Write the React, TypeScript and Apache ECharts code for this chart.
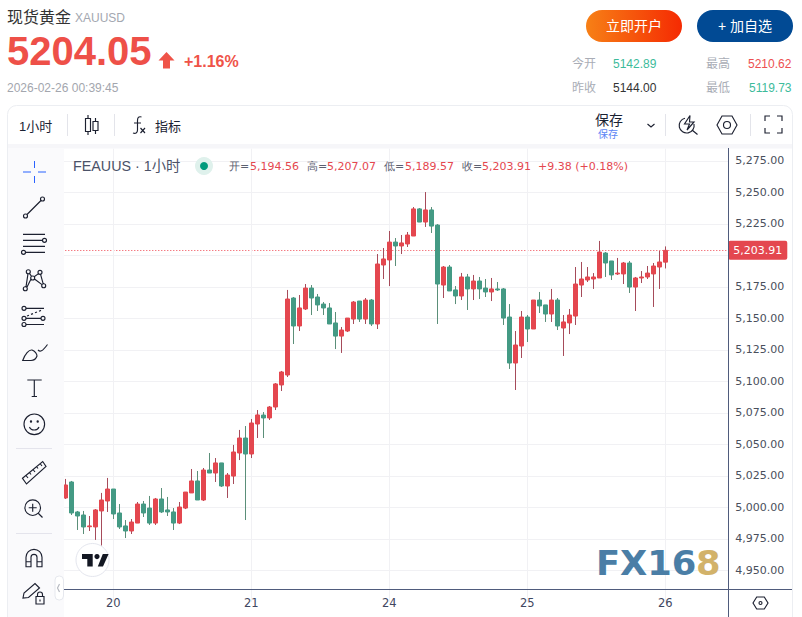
import React, { useEffect, useRef } from "react";
import * as echarts from "echarts";

const opens = [5007.4,5020.1,4996.3,4993.9,4984.6,4984.4,4997.1,5005.0,5014.5,4995.5,
4985.2,4981.2,4987.5,5002.6,4999.4,4987.5,5006.6,4997.9,4996.3,4987.5,
4999.4,5011.4,5020.9,5005.8,5029.6,5027.2,5035.2,5016.9,5024.8,5043.1,
5055.0,5042.3,5066.1,5073.2,5070.9,5079.6,5097.1,5105.0,5166.1,5143.9,
5157.4,5174.0,5166.9,5161.3,5158.2,5146.3,5135.9,5139.9,5149.4,5163.7,
5149.4,5164.5,5145.5,5192.3,5196.3,5210.5,5207.4,5209.0,5215.3,5236.8,
5226.4,5236.0,5224.0,5176.4,5190.7,5172.5,5167.7,5182.8,5173.3,5179.6,
5174.0,5170.9,5173.3,5173.3,5151.0,5114.5,5128.0,5151.0,5141.5,5164.5,
5160.6,5153.4,5164.5,5142.3,5146.3,5151.8,5176.4,5180.4,5181.2,5182.0,
5201.8,5195.5,5185.2,5185.2,5193.9,5174.8,5182.0,5182.8,5185.2,5190.7,5194.56];
const closes = [5017.7,4995.5,4993.1,4984.4,4985.2,4997.9,5005.8,5014.5,4994.7,4984.4,
4981.2,4988.3,5002.6,4995.5,4987.5,5006.6,4996.3,4996.3,4987.5,5000.2,
5012.1,5020.9,5005.8,5029.6,5027.2,5035.2,5016.9,5025.6,5043.9,5055.0,
5042.3,5066.9,5073.3,5070.9,5079.6,5097.9,5107.4,5165.3,5143.9,5158.2,
5174.0,5166.1,5160.6,5158.2,5145.5,5135.9,5140.7,5150.2,5162.9,5149.4,
5164.5,5145.5,5193.1,5197.1,5210.5,5207.4,5209.8,5216.1,5236.8,5226.4,
5236.0,5223.2,5177.2,5190.7,5171.7,5167.7,5182.8,5173.3,5179.6,5173.3,
5170.9,5173.3,5172.5,5150.2,5114.5,5128.8,5151.0,5141.5,5164.5,5159.8,
5153.4,5164.5,5143.9,5147.1,5152.6,5177.2,5181.2,5182.8,5182.8,5202.6,
5193.9,5184.4,5185.9,5193.9,5174.8,5182.0,5182.8,5185.9,5191.5,5194.7,5203.91];
const lows = [5006.6,4993.9,4982.0,4978.8,4981.2,4974.1,4969.6,4996.3,4990.7,4982.8,
4975.6,4978.8,4987.5,4992.3,4986.0,4986.0,4995.5,4993.1,4982.0,4986.7,
4998.6,5011.4,5005.8,5005.0,5027.2,5020.1,5016.1,5007.4,5018.5,5037.5,
4989.9,5039.1,5055.0,5055.0,5069.3,5077.2,5092.3,5103.4,5129.6,5139.9,
5156.6,5152.6,5155.8,5152.6,5145.5,5125.6,5122.5,5139.1,5145.5,5147.1,
5145.5,5143.9,5141.5,5181.2,5175.6,5191.5,5201.0,5206.6,5215.3,5226.4,
5222.5,5217.7,5145.5,5166.1,5171.7,5161.3,5164.5,5156.6,5164.5,5165.3,
5166.9,5163.7,5171.7,5144.7,5109.8,5093.1,5118.5,5131.2,5141.5,5154.2,
5147.1,5147.1,5140.7,5120.1,5137.5,5144.7,5166.9,5178.8,5173.3,5182.0,
5182.8,5180.4,5184.4,5177.2,5170.1,5155.8,5178.0,5181.2,5159.0,5173.3,5189.57];
const highs = [5022.5,5020.9,4997.1,4997.1,4993.1,4998.6,5011.4,5023.3,5014.5,5002.6,
4989.9,4990.7,5004.2,5005.0,5009.0,5007.4,5015.3,5008.2,4999.4,5004.2,
5012.1,5030.4,5028.8,5031.2,5043.1,5039.1,5035.2,5027.2,5049.5,5061.4,
5064.5,5070.1,5077.2,5075.6,5080.4,5098.6,5108.2,5172.5,5166.9,5168.5,
5177.2,5176.4,5169.3,5162.9,5162.1,5155.0,5143.1,5150.2,5163.7,5163.7,
5166.1,5165.3,5201.0,5205.8,5219.3,5213.7,5216.1,5218.5,5238.3,5237.5,
5250.2,5238.3,5224.8,5191.5,5192.3,5175.6,5186.0,5185.2,5184.4,5182.8,
5181.2,5182.0,5178.8,5174.0,5161.3,5139.9,5155.8,5152.6,5164.5,5170.9,
5160.6,5173.3,5166.1,5152.6,5157.4,5190.7,5194.7,5190.7,5185.9,5211.4,
5202.6,5195.5,5197.9,5194.7,5195.5,5182.8,5187.5,5191.5,5193.9,5203.4,5207.07];

const dayLabels = ["20", "21", "24", "25", "26"];
const dayIndexes = [8, 31, 54, 77, 100];
const emptySlots = 10;
const lastPrice = 5203.91;
const hiddenTicks = [4925, 5200, 5300];

const RED = "#e4474f";
const GREEN = "#449a84";
const RED_WICK = "#a64b5a";
const GREEN_WICK = "#5b8f79";
const INK = "#1c2030";
const SANS = '"Liberation Sans","Noto Sans CJK SC",sans-serif';
const DEJA = '"DejaVu Sans",sans-serif';

const c = (x: number, y: number, r: number) =>
  `M${x - r} ${y}a${r} ${r} 0 1 0 ${2 * r} 0a${r} ${r} 0 1 0 ${-2 * r} 0z`;

const iconPaths: Record<string, string> = {
  icLine: c(25.5, 216, 2) + c(42.5, 199, 2) + "M27 214.5L41 200.5",
  icFib: "M23 234.3H45M23 240.3H42.5" + c(44.5, 240.3, 2) + "M23 246.3H45M25.5 252.3H45" + c(23.5, 252.3, 2),
  icWeb: c(25.3, 288.7, 2) + c(28.3, 271.7, 2) + c(32.7, 278, 2) + c(40, 272.3, 2) + c(43.7, 285.7, 2) +
    "M26 286.8L28 273.7M29.4 273.4L31.6 276.3M34.2 276.7L38.5 273.6M40.5 274.2L43.2 283.8M42 284.6L34.5 279M31 279L26.8 287.4",
  icTrend: c(24, 308.3, 2) + "M26 308.3H44" + c(24, 318.3, 2) + "M26 318.3H41" + c(43, 318.3, 2) + c(24, 324.5, 2) + "M26 324.5H44" +
    "M27 316l2-.8M31 314.4l2-.8M35 312.8l2-.8M39 311.2l2-.8",
  icBrush: "M22.7 360.5C25 354 29 349.5 32 350C35 351 37 354 37 356C36 359 33 360.5 31 360.5ZM38 350C40 352 42 352 47.5 344.5",
  icText: "M27.3 380H41.7M34.3 380V396.5M31.7 396.5H37",
  icSmile: c(34.3, 424.3, 10.3) + c(31, 421.5, 0.6) + c(37.7, 421.5, 0.6) + "M29.5 427C31 431 37.5 431 39 427",
  icRuler: "M22.5 478.3L42.7 461.5L46 466.5L26.5 484ZM26 475.5l2 2.5M29.5 472.5l1.5 2M33 469.5l2 2.5M36.5 466.5l1.5 2M40 463.5l2 2.5",
  icZoom: c(32.7, 507.7, 7.8) + "M28.7 507.7H36.7M32.7 503.7V511.7M38.5 513.5L42.5 517.5",
  icMagnet: "M26 566.7V557.3a8 8 0 0 1 16 0V566.7H37V557.3a3 3 0 0 0 -6 0V566.7ZM26 561.7H31M37 561.7H42",
  icPencil: "M23 598L24 593L35 583.5L39.5 588L28.5 597.5ZM36 596.5H44V604H36ZM37.5 596.5v-2a2.5 2.5 0 0 1 5 0v2M40 599.5v2",
  icCandle: "M85.5 118.5H90.5V131.5H85.5ZM88 115V118.5M88 131.5V135M93 121.5H98V130.5H93ZM95.5 118V121.5M95.5 130.5V134",
  icFx: "M141.5 117C138.5 116 137.5 118 137.5 120.5V130C137.5 133 135.5 134 133 133M134 123H141M140.5 128L145 133M145 128L140.5 133",
  icFlash: "M692 130L697.5 134.5M685 118.2A7.5 7.5 0 1 0 694 124M690 115.5L684.5 124H689.5L687 130L694 122H689.5Z",
  icHex: "M717 125L722 116H732L737 125L732 134H722Z" + c(727, 125, 3.5),
  icFull: "M765 121V116H770M777 116H782V121M782 128V133H777M770 133H765V128",
  icChevron: "M647.5 124L651 127L654.5 124",
  icGear: "M753 603L756.7 597H764.3L768 603L764.3 609H756.7Z" + c(760.5, 603, 1.5),
  icCollapse: "M59.5 584L57.5 588L59.5 592",
  icTv: "M82 554H92.7V566.6H87.3V559H82ZM97.8 566.6L102.8 554H108.6L103 566.6Z",
};
Object.keys(iconPaths).forEach((name) => {
  echarts.graphic.registerShape(name, echarts.graphic.extendPath(iconPaths[name], {}));
});

const txt = (x: number, y: number, text: string, size: number, fill: string, font = SANS, align = "left", weight: any = "normal", extra: any = {}) => ({
  type: "text", x, y, z: 30, silent: true,
  style: { text, fontSize: size, fontFamily: font, fontWeight: weight, fill, textAlign: align, textVerticalAlign: "middle" },
  ...extra,
});
const icon = (name: string, stroke = INK, lineWidth = 1.15, fill = "none") => ({
  type: name, z: 30, silent: true, style: { stroke, lineWidth, fill },
});
const box = (x: number, y: number, width: number, height: number, fill: any, r: any = 0, z = 20, stroke?: string) => ({
  type: "rect", z, silent: true, shape: { x, y, width, height, r },
  style: { fill, stroke: stroke || "none", lineWidth: stroke ? 1 : 0 },
});
const seg = (x1: number, y1: number, x2: number, y2: number, stroke: string, z = 30) => ({
  type: "line", z, silent: true, shape: { x1, y1, x2, y2 }, style: { stroke, lineWidth: 1 },
});

const graphics: any[] = [
  // masks around the plot
  box(0, 0, 802, 148.5, "#ffffff", 0, 18),
  box(64, 590, 728, 27, "#ffffff", 0, 5),
  box(0, 148, 8, 469, "#ffffff", 0, 18),
  // card
  box(7.5, 105.5, 785, 540, "none", 9, 19, "#eceef2"),
  box(8, 144, 784, 4.5, "#f6f6f9", 0, 20),
  box(8, 148, 56, 469, "#fafafc", 0, 20),
  seg(792.5, 148, 792.5, 617, "#eceef2", 20),
  seg(64, 589.5, 792, 589.5, "#4f5b7c", 30),
  seg(728.5, 148, 728.5, 617, "#4f5b7c", 30),
  // header
  txt(7, 17, "现货黄金", 16, "#333333"),
  txt(75, 17.5, "XAUUSD", 12, "#a3a7b0"),
  txt(7, 51, "5204.05", 40, "#ee5048", SANS, "left", "bold"),
  { type: "polygon", z: 30, silent: true, shape: { points: [[166.5, 52], [174.5, 60.5], [170, 60.5], [170, 68.5], [163, 68.5], [163, 60.5], [158.5, 60.5]] }, style: { fill: "#ef5348" } },
  txt(184, 61, "+1.16%", 16, "#ef5348", SANS, "left", 600),
  txt(7, 87.5, "2026-02-26 00:39:45", 12, "#a3a6ae"),
  box(586, 10, 96, 32, { type: "linear", x: 0, y: 0, x2: 1, y2: 0, colorStops: [{ offset: 0, color: "#f78016" }, { offset: 1, color: "#f52a02" }] }, 16, 25),
  txt(634, 26, "立即开户", 14, "#ffffff", SANS, "center"),
  box(697, 10, 96, 32, "#014a94", 16, 25),
  txt(745, 26, "+ 加自选", 14, "#ffffff", SANS, "center"),
  txt(572, 63.5, "今开", 12, "#a9adb6"),
  txt(613, 63.5, "5142.89", 12, "#3dbb9b"),
  txt(572, 87.5, "昨收", 12, "#a9adb6"),
  txt(613, 87.5, "5144.00", 12, "#333333"),
  txt(706, 63.5, "最高", 12, "#a9adb6"),
  txt(748, 63.5, "5210.62", 12, "#ed5050"),
  txt(706, 87.5, "最低", 12, "#a9adb6"),
  txt(749, 87.5, "5119.73", 12, "#3dbb9b"),
  // toolbar
  txt(19, 126, "1小时", 13, "#1a2233"),
  seg(67.5, 114, 67.5, 136, "#e3e4ea"),
  icon("icCandle"),
  seg(114.5, 114, 114.5, 136, "#e3e4ea"),
  icon("icFx"),
  txt(155, 126, "指标", 13, "#1a2233"),
  txt(595, 120, "保存", 14, "#1a2233"),
  txt(598, 134.5, "保存", 10, "#5b85f5"),
  icon("icChevron"),
  seg(665.5, 114, 665.5, 136, "#e3e4ea"),
  icon("icFlash"),
  icon("icHex"),
  seg(750.5, 114, 750.5, 136, "#e3e4ea"),
  icon("icFull"),
  // sidebar
  seg(23, 172, 31, 172, "#2962ff"), seg(38, 172, 46, 172, "#2962ff"),
  seg(34.5, 161, 34.5, 168, "#2962ff"), seg(34.5, 176, 34.5, 183, "#2962ff"),
  icon("icLine"), icon("icFib"), icon("icWeb"), icon("icTrend"), icon("icBrush"), icon("icText"), icon("icSmile"),
  seg(16, 448.5, 52, 448.5, "#e4e4ec"),
  icon("icRuler"), icon("icZoom"),
  seg(16, 533.5, 52, 533.5, "#e4e4ec"),
  icon("icMagnet"), icon("icPencil"),
  box(55, 576, 8.5, 24, "#ffffff", 4, 25, "#e6e8ee"),
  icon("icCollapse", "#b5b8c0"),
  // plot legend
  txt(73, 166, "FEAUUS · 1小时", 14.3, "#4b5268"),
  { type: "circle", z: 15, silent: true, shape: { cx: 204, cy: 166, r: 9 }, style: { fill: "#dff1ec" } },
  { type: "circle", z: 16, silent: true, shape: { cx: 204, cy: 166, r: 4 }, style: { fill: "#009a7c" } },
  txt(229, 166, "开=", 11, "#5b6070", DEJA),
  txt(250, 166, "5,194.56", 11, RED, DEJA),
  txt(307, 166, "高=", 11, "#5b6070", DEJA),
  txt(327, 166, "5,207.07", 11, RED, DEJA),
  txt(384, 166, "低=", 11, "#5b6070", DEJA),
  txt(405, 166, "5,189.57", 11, RED, DEJA),
  txt(462, 166, "收=", 11, "#5b6070", DEJA),
  txt(482, 166, "5,203.91", 11, RED, DEJA),
  txt(538, 166, "+9.38 (+0.18%)", 11, RED, DEJA),
  // logo badge
  { type: "circle", z: 15, silent: true, shape: { cx: 92.5, cy: 560, r: 16.5 }, style: { fill: "#ffffff", stroke: "#e4e6ee", lineWidth: 1 } },
  icon("icTv", "none", 0, "#131722"),
  { type: "circle", z: 30, silent: true, shape: { cx: 97, cy: 556.6, r: 2.6 }, style: { fill: "#131722" } },
  // watermark
  txt(596, 563, "FX16", 33, "#4a7ea6", DEJA, "left", "bold", { scaleX: 1.07 }),
  txt(696, 563, "8", 33, "#d2b26a", DEJA, "left", "bold", { scaleX: 1.07 }),
  // axis corner icon
  icon("icGear"),
];

const categories = [...opens.map((_, i) => { const k = dayIndexes.indexOf(i); return k >= 0 ? dayLabels[k] : String(i); }),
  ...Array.from({ length: emptySlots }, (_, i) => `f${i}`)];
const wicks = opens.map((o, i) => [o, closes[i], lows[i], highs[i]]);
const bodies = opens.map((o, i) => [o, closes[i], Math.min(o, closes[i]), Math.max(o, closes[i])]);
const isDay = (i: number) => dayIndexes.indexOf(i) >= 0;
const GRIDLINE = "#f1f1f4";

export default function App() {
  const ref = useRef<HTMLDivElement>(null);
  useEffect(() => {
    const chart = echarts.init(ref.current!, undefined, { renderer: "svg", width: 802, height: 617 });
    chart.setOption({
      animation: false,
      backgroundColor: "#ffffff",
      grid: { left: 62.3, top: 129.3, width: 666, height: 472.5, containLabel: false },
      xAxis: {
        type: "category", data: categories, offset: -12.8, z: 10,
        axisLine: { show: false }, axisTick: { show: false },
        axisLabel: { interval: (i: number) => isDay(i), color: "#3f4760", fontFamily: DEJA, fontSize: 11.5, margin: 8 },
        splitLine: { show: true, alignWithLabel: true, interval: (i: number) => isDay(i), lineStyle: { color: GRIDLINE, width: 1 } },
      },
      yAxis: {
        type: "value", position: "right", min: 4925, max: 5300, interval: 25,
        axisLine: { show: false }, axisTick: { show: false },
        axisLabel: {
          margin: 7, color: "#4a4f5c", fontFamily: DEJA, fontSize: 11, padding: [0, 0, 2, 0],
          formatter: (v: number) => (hiddenTicks.indexOf(v) >= 0 ? "" : v.toLocaleString("en-US", { minimumFractionDigits: 2, maximumFractionDigits: 2 })),
        },
        splitLine: { show: true, lineStyle: { color: GRIDLINE, width: 1 } },
      },
      series: [
        {
          type: "candlestick", data: wicks, barWidth: 1, z: 12,
          itemStyle: { color: RED_WICK, color0: GREEN_WICK, borderColor: RED_WICK, borderColor0: GREEN_WICK, borderWidth: 1 },
        },
        {
          type: "candlestick", data: bodies, barWidth: 4, z: 13,
          itemStyle: { color: RED, color0: GREEN, borderColor: RED, borderColor0: GREEN, borderWidth: 1 },
          markLine: {
            silent: true, symbol: "none", animation: false,
            lineStyle: { color: "#f0444f", type: [1, 2], width: 1 },
            label: {
              show: true, position: "end", distance: 0, color: "#ffffff", backgroundColor: RED,
              fontFamily: DEJA, fontSize: 11, padding: [4, 5, 4, 5], borderRadius: 2,
              formatter: () => lastPrice.toLocaleString("en-US", { minimumFractionDigits: 2 }),
            },
            data: [{ yAxis: lastPrice + 0.14 }],
          },
        },
      ],
      graphic: { elements: graphics },
    });
    return () => chart.dispose();
  }, []);
  return <div ref={ref} style={{ position: "absolute", left: 0, top: 0, width: 802, height: 617 }} />;
}
